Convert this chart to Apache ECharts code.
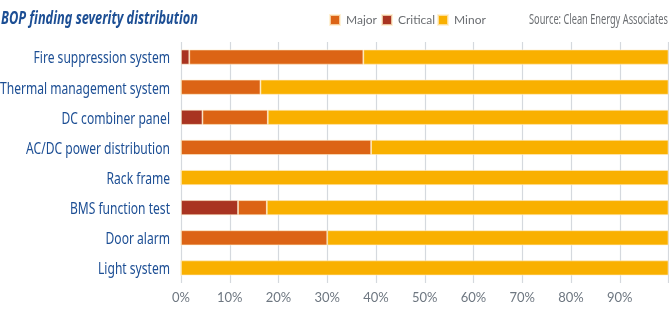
<!DOCTYPE html>
<html>
<head>
<meta charset="utf-8">
<script src="https://cdn.jsdelivr.net/npm/echarts@6/dist/echarts.min.js"></script>
<style>
  html, body { margin: 0; padding: 0; background: #fff; }
  #chart { width: 669px; height: 325px; }
</style>
</head>
<body>
<div id="chart"></div>
<script>
// Inspection categories, top to bottom
const categories = [
  'Fire suppression system',
  'Thermal management system',
  'DC combiner panel',
  'AC/DC power distribution',
  'Rack frame',
  'BMS function test',
  'Door alarm',
  'Light system'
];
// Share of findings per severity (%)
const critical = [1.7, 0, 4.4, 0, 0, 11.7, 0, 0];
const major    = [35.7, 16.3, 13.4, 39.0, 0, 5.9, 30.0, 0];
const minor    = [62.6, 83.7, 82.2, 61.0, 100, 82.4, 70.0, 100];
const xTicks = [0, 10, 20, 30, 40, 50, 60, 70, 80, 90];
const legendItems = ['Major', 'Critical', 'Minor'];

const TITLE = 'BOP finding severity distribution';
const SOURCE = 'Source: Clean Energy Associates';

const BLUE = '#1C4E94';
const GREY = '#6b6e72';
const COLORS = { Major: '#DC6415', Critical: '#A93421', Minor: '#F9B000' };
const LABEL_FONT = '17px "Noto Sans"';
const TITLE_FONT = 'italic bold 17px "Noto Sans"';
const SOURCE_FONT = '13.5px "Noto Sans"';

// Horizontal squeeze factor so a string set in `font` spans `width` pixels
const measureCtx = document.createElement('canvas').getContext('2d');
function textWidth(text, font) {
  measureCtx.font = font;
  return measureCtx.measureText(text).width;
}
function squeeze(text, font, width) {
  return width / textWidth(text, font);
}

const chart = echarts.init(document.getElementById('chart'));

function barSeries(name, values) {
  return {
    name: name,
    type: 'bar',
    stack: 'total',
    barWidth: 15,
    data: values,
    itemStyle: { color: COLORS[name], borderColor: 'rgba(255,238,200,0.75)', borderWidth: 0.8 },
    emphasis: { disabled: true }
  };
}

// One legend box per severity, laid out left to right
const legendLeft = [329, 381, 437];
const legends = legendItems.map((name, i) => ({
  data: [name],
  left: legendLeft[i], top: 14,
  padding: 0,
  itemWidth: 10, itemHeight: 10,
  icon: 'rect',
  selectedMode: false,
  textStyle: { fontFamily: 'Lato', fontSize: 12, color: GREY, padding: [0, 0, 0, 1] }
}));

chart.setOption({
  animation: false,
  legend: legends,
  grid: { left: 181, right: 0.5, top: 42, bottom: 42, outerBoundsMode: 'none' },
  xAxis: {
    type: 'value',
    min: 0, max: 100, interval: 10,
    axisLine: { show: false },
    axisTick: { show: false },
    splitLine: { show: true, lineStyle: { color: '#d5d9de', width: 1.2 } },
    axisLabel: {
      margin: 8,
      fontFamily: 'Lato', fontSize: 13, color: '#6e7781',
      formatter: v => xTicks.indexOf(v) >= 0 ? v + '%' : ''
    }
  },
  yAxis: {
    type: 'category',
    data: categories,
    inverse: true,
    axisLine: { show: false },
    axisTick: { show: false },
    axisLabel: { show: false }
  },
  series: [
    barSeries('Critical', critical),
    barSeries('Major', major),
    barSeries('Minor', minor)
  ]
});

// Category names set in a condensed cut, right-aligned against the plot
const longest = categories.reduce((a, b) =>
  textWidth(a, LABEL_FONT) >= textWidth(b, LABEL_FONT) ? a : b);
const labelScale = squeeze(longest, LABEL_FONT, 170);
const categoryLabels = categories.map(name => ({
  type: 'text',
  x: 170,
  y: chart.convertToPixel({ yAxisIndex: 0 }, name) + 1.5,
  scaleX: labelScale,
  silent: true,
  style: { text: name, font: LABEL_FONT, fill: BLUE, align: 'right', verticalAlign: 'middle' }
}));

chart.setOption({
  graphic: [
    {
      type: 'text', x: 1, y: 19.5, scaleX: squeeze(TITLE, TITLE_FONT, 197), silent: true,
      style: { text: TITLE, font: TITLE_FONT, fill: BLUE, align: 'left', verticalAlign: 'middle' }
    },
    {
      type: 'text', x: 668, y: 20, scaleX: squeeze(SOURCE, SOURCE_FONT, 139), silent: true,
      style: { text: SOURCE, font: SOURCE_FONT, fill: GREY, align: 'right', verticalAlign: 'middle' }
    }
  ].concat(categoryLabels)
});
</script>
</body>
</html>
